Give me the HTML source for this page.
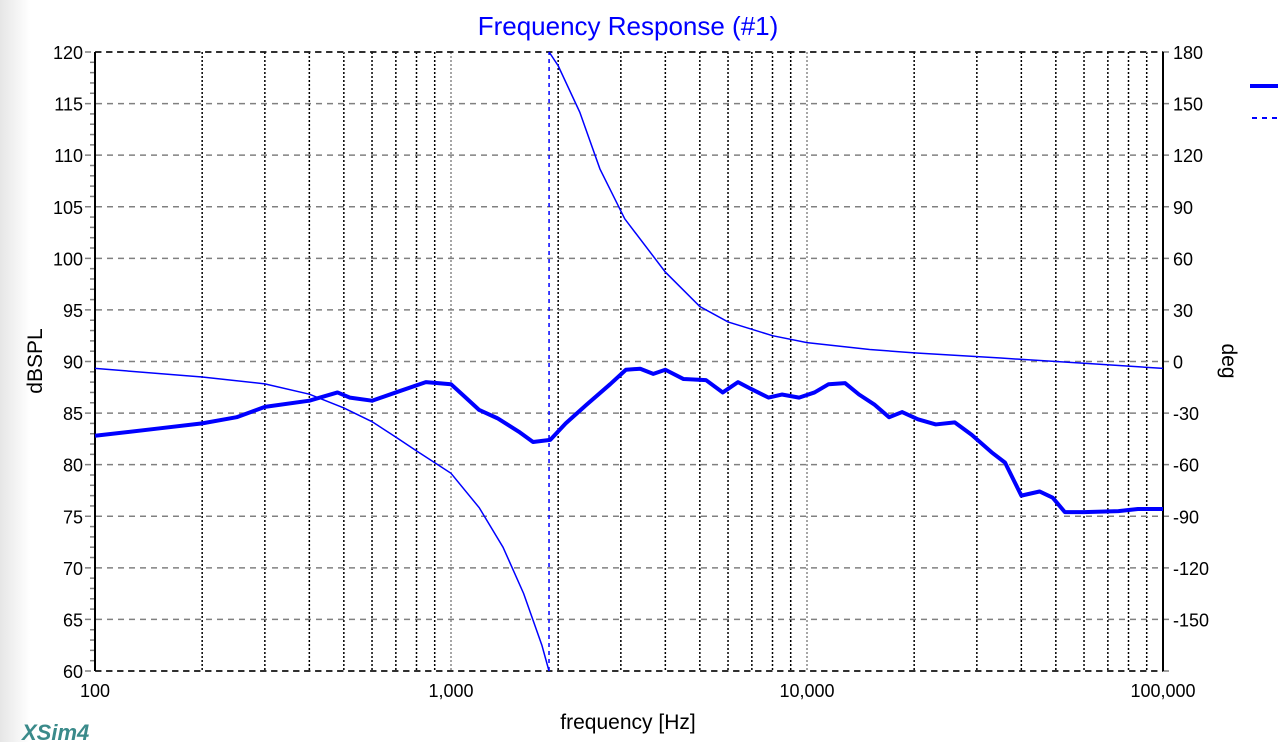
<!DOCTYPE html>
<html><head><meta charset="utf-8"><style>
body{margin:0;width:1278px;height:742px;overflow:hidden;background:#fff;font-family:"Liberation Sans",sans-serif}
</style></head><body>
<svg width="1278" height="742" xmlns="http://www.w3.org/2000/svg">
<defs><linearGradient id="lg" x1="0" x2="1"><stop offset="0" stop-color="#e6e6e6"/><stop offset="1" stop-color="#fff"/></linearGradient></defs>
<rect x="0" y="0" width="30" height="742" fill="url(#lg)"/>
<text x="628" y="35" text-anchor="middle" font-size="26" fill="#0000ff">Frequency Response (#1)</text>
<g id="grid"></g><g id="axes"></g><g id="series"></g>
<text transform="translate(42,361) rotate(-90)" text-anchor="middle" font-size="21" fill="#000">dBSPL</text>
<text transform="translate(1222,361) rotate(90)" text-anchor="middle" font-size="21" fill="#000">deg</text>
<text x="628" y="729" text-anchor="middle" font-size="21" fill="#000">frequency [Hz]</text>
<text x="22" y="740" font-size="22" font-weight="bold" font-style="italic" fill="#3a8a8a">XSim4</text>
<line x1="1250" y1="86" x2="1278" y2="86" stroke="#0000ff" stroke-width="4"/>
<line x1="1252" y1="118" x2="1278" y2="118" stroke="#0000ff" stroke-width="2" stroke-dasharray="5,5"/>
</svg>
<script>
const splFreq=[100,150,200,250,300,400,480,520,600,700,850,1000,1100,1200,1350,1550,1700,1900,2100,2400,2800,3100,3400,3700,4000,4500,5200,5800,6400,7000,7800,8500,9500,10500,11500,12800,14000,15500,17000,18500,20500,23000,26000,29000,33000,36000,40000,45000,49000,53000,60000,75000,85000,100000];
const splDb=[82.8,83.5,84.0,84.6,85.6,86.2,87.0,86.5,86.2,87.0,88.0,87.8,86.5,85.3,84.5,83.2,82.2,82.4,84.0,85.8,87.8,89.2,89.3,88.8,89.2,88.3,88.2,87.0,88.0,87.3,86.5,86.8,86.5,87.0,87.8,87.9,86.8,85.8,84.6,85.1,84.4,83.9,84.1,82.9,81.2,80.2,77.0,77.4,76.8,75.4,75.4,75.5,75.7,75.7];
const phFreq=[100,200,300,400,500,600,700,800,1000,1200,1400,1600,1800,1885,1886,2000,2300,2620,3076,4000,5000,6000,8000,10000,15000,20000,35000,60000,100000];
const phDeg=[-4,-9,-13,-19,-27,-35,-44,-52,-65,-85,-108,-135,-165,-180,180,172,145,112,83,52,32,23,15,11,7,5,2,-1,-4];
const leftTicks=[60,65,70,75,80,85,90,95,100,105,110,115,120];
const rightTicks=[-150,-120,-90,-60,-30,0,30,60,90,120,150,180];
const xTicks=[100,1000,10000,100000];
const xTickLabels=["100","1,000","10,000","100,000"];
const L=95,R=1163,T=52,B=671;
const X=f=>L+(Math.log10(f)-2)/3*(R-L);
const Y=d=>B-(d-60)/60*(B-T);
const P=d=>B-(d+180)/360*(B-T);
const NS="http://www.w3.org/2000/svg";
function mk(t,a,p){const e=document.createElementNS(NS,t);for(const k in a)e.setAttribute(k,a[k]);p.appendChild(e);return e;}
const g=document.getElementById('grid'),ax=document.getElementById('axes'),s=document.getElementById('series');
for(let dec=100;dec<100000;dec*=10)for(let m=1;m<10;m++){const x=X(dec*m);if(m===1&&dec===100)continue;
const l=mk('line',{x1:x,y1:T,x2:x,y2:B,stroke:m===1?'#888':'#000','stroke-width':1.5,'stroke-dasharray':'2,2'},g);

}
leftTicks.forEach(v=>{const y=Y(v);
const l=mk('line',{x1:L-10,y1:y,x2:R+10,y2:y,stroke:'#808080','stroke-width':1.5,'stroke-dasharray':'6,5'},g);


const t=mk('text',{x:L-12,y:y+7,'text-anchor':'end','font-size':18},ax);t.textContent=v;

});
for(let v=60;v<120;v++){if(v%5===0)continue;const y=Y(v);mk('line',{x1:L-5,y1:y,x2:L,y2:y,stroke:'#808080','stroke-width':1.5},ax);}
rightTicks.forEach(v=>{const y=P(v);const t=mk('text',{x:R+10,y:y+7,'font-size':18},ax);t.textContent=v;

});
xTicks.forEach((f,i)=>{const t=mk('text',{x:X(f),y:697,'text-anchor':'middle','font-size':18},ax);t.textContent=xTickLabels[i];

});
mk('line',{x1:L,y1:T,x2:L,y2:B,stroke:'#000','stroke-width':2},ax);
mk('line',{x1:R,y1:T,x2:R,y2:B,stroke:'#000','stroke-width':2},ax);
mk('line',{x1:L,y1:T,x2:R,y2:T,stroke:'#000','stroke-width':1.5,'stroke-dasharray':'6,5'},ax);
mk('line',{x1:L,y1:B,x2:R,y2:B,stroke:'#000','stroke-width':1.5,'stroke-dasharray':'6,5'},ax);
const spl=mk('polyline',{points:splFreq.map((f,i)=>X(f)+','+Y(splDb[i])).join(' '),fill:'none',stroke:'#0000ff','stroke-width':4,'stroke-linejoin':'round'},s);


let segs=[[]];
phFreq.forEach((f,i)=>{if(i>0&&Math.abs(phDeg[i]-phDeg[i-1])>180)segs.push([]);segs[segs.length-1].push([X(f),P(phDeg[i])]);});
segs.forEach((sg,k)=>{const pl=mk('polyline',{points:sg.map(p=>p.join(',')).join(' '),fill:'none',stroke:'#0000ff','stroke-width':1.5},s);


if(k>0){const a=segs[k-1][segs[k-1].length-1],b=sg[0];
const d=mk('line',{x1:a[0],y1:a[1],x2:b[0],y2:b[1],stroke:'#0000ff','stroke-width':1.5,'stroke-dasharray':'4,4'},s);

}});
</script>
</body></html>
